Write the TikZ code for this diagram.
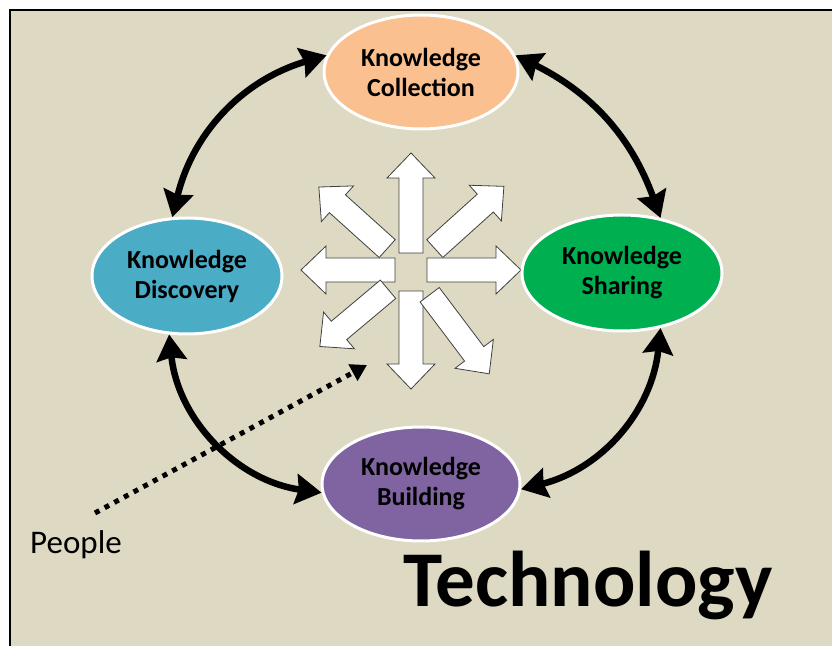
\documentclass[tikz,border=0pt]{standalone}
\usepackage{fontspec}
\setmainfont{Carlito}
\usetikzlibrary{shapes.geometric,arrows.meta}

\definecolor{sfondo}{HTML}{DDD9C3}
\definecolor{raccolta}{HTML}{FAC090}
\definecolor{scoperta}{HTML}{4BACC6}
\definecolor{condivisione}{HTML}{00B050}
\definecolor{costruzione}{HTML}{8064A2}

\tikzset{
    fase/.style={ellipse, draw=white, line width=3pt, inner sep=0pt, align=center,
        font=\bfseries\fontsize{26}{30}\selectfont},
    ciclo/.style={{Stealth[length=26pt,width=30pt,inset=3pt]}-{Stealth[length=26pt,width=30pt,inset=3pt]},
        line width=6.5pt},
    freccione/.style={fill=white, draw=black!75, line width=0.8pt},
    scritta/.style={inner sep=0pt, anchor=base west}
}

\begin{document}
\begin{tikzpicture}[x=1pt,y=1pt]
        \useasboundingbox (0,0) rectangle (832,645);

        % Sfondo con cornice
        \filldraw[fill=sfondo, draw=black, line width=2pt] (10,-10) rectangle (845,635);

        % Definizioni per le frecce centrali
        \def\gambo{12}
        \def\testa{24}
        \def\punta{25}
        \coordinate (hub) at (411,375);

        % Frecce bianche dal centro
        \foreach \ang/\rin/\rout in {90/17/117, 270/21/119, 180/16/110, 0/16/110,
                                     42/32/125, 138/32/124, 220/30/119, 307/31/130} {
            \begin{scope}[shift={(hub)}, rotate=\ang]
                \draw[freccione] (\rin,-\gambo) -- (\rout-\punta,-\gambo) -- (\rout-\punta,-\testa)
                    -- (\rout,0) -- (\rout-\punta,\testa) -- (\rout-\punta,\gambo) -- (\rin,\gambo) -- cycle;
            \end{scope}
        }

        % --- Fasi del ciclo ---
        \node[fase, fill=raccolta, minimum width=194pt, minimum height=114pt] (coll) at (421,573) {Knowledge\\Collection};
        \node[fase, fill=scoperta, minimum width=190pt, minimum height=116pt] (disc) at (187,369) {Knowledge\\Discovery};
        \node[fase, fill=condivisione, minimum width=200pt, minimum height=116pt] (shar) at (622,372) {Knowledge\\Sharing};
        \node[fase, fill=costruzione, minimum width=198pt, minimum height=114pt] (build) at (421,161) {Knowledge\\Building};

        % Frecce curve tra le fasi
        \draw[ciclo] (disc.104) to[bend left=30] (coll.170);
        \draw[ciclo] (coll.10) to[bend left=22] (shar.55);
        \draw[ciclo] (disc.253) to[bend right=38] (build.185);
        \draw[ciclo] (shar.305) to[bend left=35] (build.357);

        % --- Etichette ---
        \node[scritta, font=\fontsize{33}{40}\selectfont] (people) at (30,92) {People};
        \node[scritta, font=\bfseries\fontsize{79}{92}\selectfont] (tech) at (403,39) {Technology};

        % Freccia tratteggiata delle persone
        \coordinate (pstart) at (95,132);
        \coordinate (ptip) at (367,280);
        \draw[line width=5pt, dash pattern=on 5pt off 6pt, -{Triangle[length=16pt,width=18pt]}] (pstart) -- (ptip);

\end{tikzpicture}
\end{document}
